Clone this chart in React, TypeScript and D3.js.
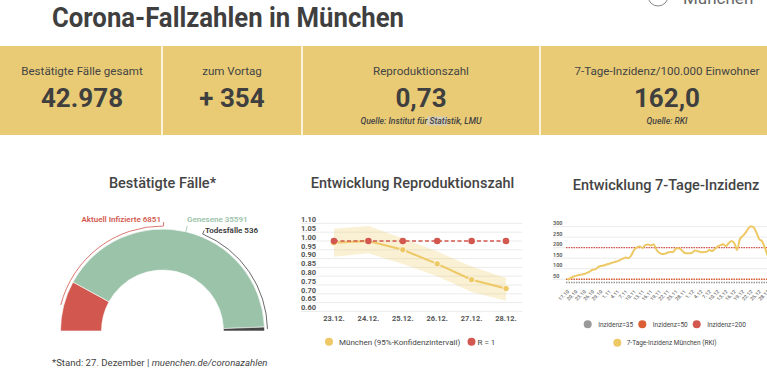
import * as d3 from 'd3';

// KPI band
const kpiLabels = ['Bestätigte Fälle gesamt', 'zum Vortag', 'Reproduktionszahl', '7-Tage-Inzidenz/100.000 Einwohner'];
const kpiValues = ['42.978', '+ 354', '0,73', '162,0'];
const kpiSources = ['', '', 'Quelle: Institut für Statistik, LMU', 'Quelle: RKI'];

// gauge
const gaugeCategories = ['Aktuell Infizierte', 'Genesene', 'Todesfälle'];
const gaugeValues = [6851, 35591, 536];

// reproduction number
const rDates = ['23.12.', '24.12.', '25.12.', '26.12.', '27.12.', '28.12.'];
const rValues = [0.99, 1.0, 0.95, 0.87, 0.78, 0.73];
const rLower = [0.91, 0.93, 0.87, 0.8, 0.71, 0.66];
const rUpper = [1.07, 1.085, 1.015, 0.94, 0.855, 0.79];
const rReference = [1, 1, 1, 1, 1, 1];
const rTicks = [1.1, 1.05, 1.0, 0.95, 0.9, 0.85, 0.8, 0.75, 0.7, 0.65, 0.6];

// 7-day incidence, daily from 17.10.
const incidenceStart = new Date(2020, 9, 17);
const incidenceValues = [
  47, 55, 62, 66, 70, 72, 75, 80, 86, 95, 97, 108, 113, 115, 120, 124, 128, 132, 136, 142,
  148, 153, 150, 165, 190, 201, 205, 199, 212, 215, 211, 216, 190, 176, 170, 171, 177, 180, 179, 196,
  197, 189, 176, 173, 173, 178, 186, 183, 178, 179, 180, 189, 184, 194, 205, 212, 216, 208, 222, 232,
  221, 189, 240, 255, 270, 290, 302, 296, 270, 240, 230, 200, 162,
];
const incidenceTicks = [300, 250, 200, 150, 100, 50];
const thresholdLabels = ['Inzidenz=35', 'Inzidenz=50', 'Inzidenz=200'];
const thresholdValues = [35, 50, 200];

const TEXT = '#444';
const YELLOW = '#E9CB75';
const LINE_YELLOW = '#EDC865';
const RED = '#D2584F';
const GREEN = '#9AC3A9';
const ORANGE = '#DB5E35';
const GREY = '#999';
const FONT = 'Roboto, "Noto Sans", sans-serif';

function Gauge() {
  const cx = 162.5, cy = 331;
  const pie = d3.pie<number>().sort(null).startAngle(-Math.PI / 2).endAngle(Math.PI / 2);
  const arcs = pie(gaugeValues);
  const arc = d3.arc<d3.PieArcDatum<number>>().innerRadius(61).outerRadius(102);
  const colors = [RED, GREEN, '#444'];
  const mid = (a: d3.PieArcDatum<number>) => (a.startAngle + a.endAngle) / 2;
  const pt = (ang: number, r: number) => [cx + Math.sin(ang) * r, cy - Math.cos(ang) * r];

  const leader = (a0: number, a1: number) => {
    const p = d3.path();
    p.arc(cx, cy, 105, a0 - Math.PI / 2, a1 - Math.PI / 2, a1 < a0);
    return p.toString();
  };
  const redEnd = 0.01;
  const greyEnd = (22.5 * Math.PI) / 180;
  const [rx0, ry0] = pt(redEnd, 105);
  const [rx1, ry1] = pt(redEnd, 109);
  const [gx0, gy0] = pt(greyEnd, 105);
  const [gx1, gy1] = pt(greyEnd, 109);
  const [nx0, ny0] = pt(mid(arcs[1]), 102);
  const [nx1, ny1] = pt(mid(arcs[1]), 108);

  return (
    <g fontFamily={FONT}>
      <text x={cx} y={188} textAnchor="middle" fontSize={14.5} fontWeight={500} fill={TEXT}>Bestätigte Fälle*</text>
      <g transform={`translate(${cx},${cy})`}>
        {arcs.map((a, i) => (
          <path key={i} d={arc(a) || ''} fill={colors[i]} stroke="#fff" strokeWidth={0.6} />
        ))}
      </g>
      <path d={leader(mid(arcs[0]), redEnd)} fill="none" stroke={RED} strokeWidth={0.8} />
      <line x1={rx0} y1={ry0} x2={rx1} y2={ry1} stroke={RED} strokeWidth={0.8} />
      <path d={leader(mid(arcs[2]), greyEnd)} fill="none" stroke="#444" strokeWidth={0.8} />
      <line x1={gx0} y1={gy0} x2={gx1} y2={gy1} stroke="#444" strokeWidth={0.8} />
      <line x1={nx0} y1={ny0} x2={nx1} y2={ny1} stroke={GREEN} strokeWidth={0.8} />
      <text x={161} y={222} textAnchor="end" fontSize={8} fontWeight={600} fill={RED}>
        {`${gaugeCategories[0]} ${gaugeValues[0]}`}
      </text>
      <text x={187} y={222} fontSize={8} fontWeight={600} fill={GREEN}>
        {`${gaugeCategories[1]} ${gaugeValues[1]}`}
      </text>
      <text x={205} y={233} fontSize={8} fontWeight={600} fill="#333">
        {`${gaugeCategories[2]} ${gaugeValues[2]}`}
      </text>
    </g>
  );
}

function RChart() {
  const x = d3.scalePoint<string>().domain(rDates).range([334, 506]);
  const y = d3.scaleLinear().domain([0.6, 1.1]).range([311.4, 223.4]);
  const idx = d3.range(rDates.length);
  const band = d3.area<number>().x(i => x(rDates[i]) || 0).y0(i => y(rLower[i])).y1(i => y(rUpper[i]));
  const line = (vals: number[]) => d3.line<number>().x(i => x(rDates[i]) || 0).y(i => y(vals[i]))(idx) || '';

  return (
    <g fontFamily={FONT}>
      <text x={412.5} y={188} textAnchor="middle" fontSize={14.5} fontWeight={500} fill={TEXT}>Entwicklung Reproduktionszahl</text>
      {rTicks.map(t => (
        <g key={t}>
          <line x1={301} x2={522} y1={y(t)} y2={y(t)} stroke="#e6e6e6" strokeWidth={0.8} />
          <text x={301} y={y(t) - 1.2} fontSize={7.5} fontWeight={700} fill="#555">{t.toFixed(2)}</text>
        </g>
      ))}
      <path d={band(idx) || ''} fill={LINE_YELLOW} fillOpacity={0.28} />
      <path d={line(rValues)} fill="none" stroke={LINE_YELLOW} strokeWidth={2} />
      {idx.map(i => (
        <circle key={i} cx={x(rDates[i])} cy={y(rValues[i])} r={3.2} fill={LINE_YELLOW} stroke="#fff" strokeWidth={0.8} />
      ))}
      <path d={line(rReference)} fill="none" stroke={RED} strokeWidth={1.5} strokeDasharray="4,2.5" />
      {idx.map(i => (
        <circle key={i} cx={x(rDates[i])} cy={y(rReference[i])} r={3.3} fill={RED} />
      ))}
      {rDates.map(d => (
        <text key={d} x={x(d)} y={321} textAnchor="middle" fontSize={7.5} fontWeight={700} fill="#555">{d}</text>
      ))}
      <circle cx={329} cy={341.7} r={4} fill={LINE_YELLOW} />
      <text x={339} y={344.5} fontSize={8} fill={TEXT}>München (95%-Konfidenzintervall)</text>
      <circle cx={471.5} cy={341.7} r={4} fill={RED} />
      <text x={477.5} y={344.5} fontSize={8} fill={TEXT}>R = 1</text>
    </g>
  );
}

function IncidenceChart() {
  const days = incidenceValues.map((_, i) => d3.timeDay.offset(incidenceStart, i));
  const x = d3.scaleTime().domain([days[0], days[days.length - 1]]).range([567.5, 567.5 + 2.78 * (days.length - 1)]);
  const y = d3.scaleLinear().domain([0, 300]).range([289.8, 226.6]);
  const line = d3.line<number>().x((_, i) => x(days[i])).y(v => y(v)).curve(d3.curveMonotoneX);
  const fmt = d3.timeFormat('%-d.%-m');
  const tickDays = days.filter((_, i) => i % 3 === 0);
  const thresholdColors = [GREY, ORANGE, RED];

  return (
    <g fontFamily={FONT}>
      <text x={666} y={189.5} textAnchor="middle" fontSize={14.5} fontWeight={500} fill={TEXT}>Entwicklung 7-Tage-Inzidenz</text>
      {incidenceTicks.map(t => (
        <g key={t}>
          <line x1={553} x2={767} y1={y(t)} y2={y(t)} stroke="#e6e6e6" strokeWidth={0.8} />
          <text x={553} y={y(t) - 1.5} fontSize={5.5} fontWeight={700} fill="#666">{t}</text>
        </g>
      ))}
      {thresholdValues.map((t, i) => (
        <line key={t} x1={566} x2={767} y1={y(t)} y2={y(t)} stroke={thresholdColors[i]} strokeWidth={1.4} strokeDasharray="1.5,1" />
      ))}
      <path d={line(incidenceValues) || ''} fill="none" stroke={LINE_YELLOW} strokeWidth={2} />
      {tickDays.map(d => (
        <text key={+d} transform={`translate(${x(d) + 2},${292}) rotate(-45)`} textAnchor="end" fontSize={5} fontWeight={600} fill="#777">
          {fmt(d)}
        </text>
      ))}
      {thresholdLabels.map((l, i) => {
        const cxs = [587.7, 642.3, 696.7];
        return (
          <g key={l}>
            <circle cx={cxs[i]} cy={324.3} r={4} fill={thresholdColors[i]} />
            <text x={cxs[i] + 10.5} y={326.5} fontSize={6.5} fill={TEXT}>{l}</text>
          </g>
        );
      })}
      <circle cx={617.3} cy={342.7} r={4} fill={LINE_YELLOW} />
      <text x={626.7} y={345} fontSize={6.5} fill={TEXT}>7-Tage-Inzidenz München (RKI)</text>
    </g>
  );
}

function KpiBand() {
  const bounds = [0, 162, 302, 540, 767];
  return (
    <g fontFamily={FONT}>
      <rect x={0} y={46} width={767} height={89} fill={YELLOW} />
      {bounds.slice(1, -1).map(b => (
        <line key={b} x1={b} x2={b} y1={46} y2={135} stroke="#fff" strokeWidth={1.5} />
      ))}
      <rect x={427} y={116.5} width={20} height={9} fill="#d4cdb9" />
      {kpiLabels.map((l, i) => {
        const c = i === 3 ? 667 : (bounds[i] + bounds[i + 1]) / 2 + (i === 0 ? 1 : 0);
        return (
          <g key={l}>
            <text x={c} y={75} textAnchor="middle" fontSize={11.6} fill={TEXT}>{l}</text>
            <text x={c} y={107} textAnchor="middle" fontSize={26} fontWeight={700} fill="#3f3f3f">{kpiValues[i]}</text>
            {kpiSources[i] && (
              <text x={c} y={123.5} textAnchor="middle" fontSize={8.6} fontWeight={500} fontStyle="italic" fill={TEXT}>{kpiSources[i]}</text>
            )}
          </g>
        );
      })}
    </g>
  );
}

export default function App() {
  return (
    <div style={{ position: 'absolute', left: 0, top: 0 }}>
      <svg width={767} height={390} style={{ display: 'block', background: '#fff' }}>
        <text x={52} y={27} fontFamily={FONT} fontSize={28} fontWeight={700} fill="#3f3f3f" textLength={352} lengthAdjust="spacingAndGlyphs">
          Corona-Fallzahlen in München
        </text>
        <circle cx={658} cy={-4} r={10} fill="none" stroke="#888" strokeWidth={1} />
        <text x={683} y={4} fontFamily={FONT} fontSize={17} fill="#666">München</text>
        <KpiBand />
        <Gauge />
        <RChart />
        <IncidenceChart />
        <text x={52} y={366} fontFamily={FONT} fontSize={9.6} fill={TEXT}>
          *Stand: 27. Dezember | <tspan fontStyle="italic">muenchen.de/coronazahlen</tspan>
        </text>
      </svg>
    </div>
  );
}
